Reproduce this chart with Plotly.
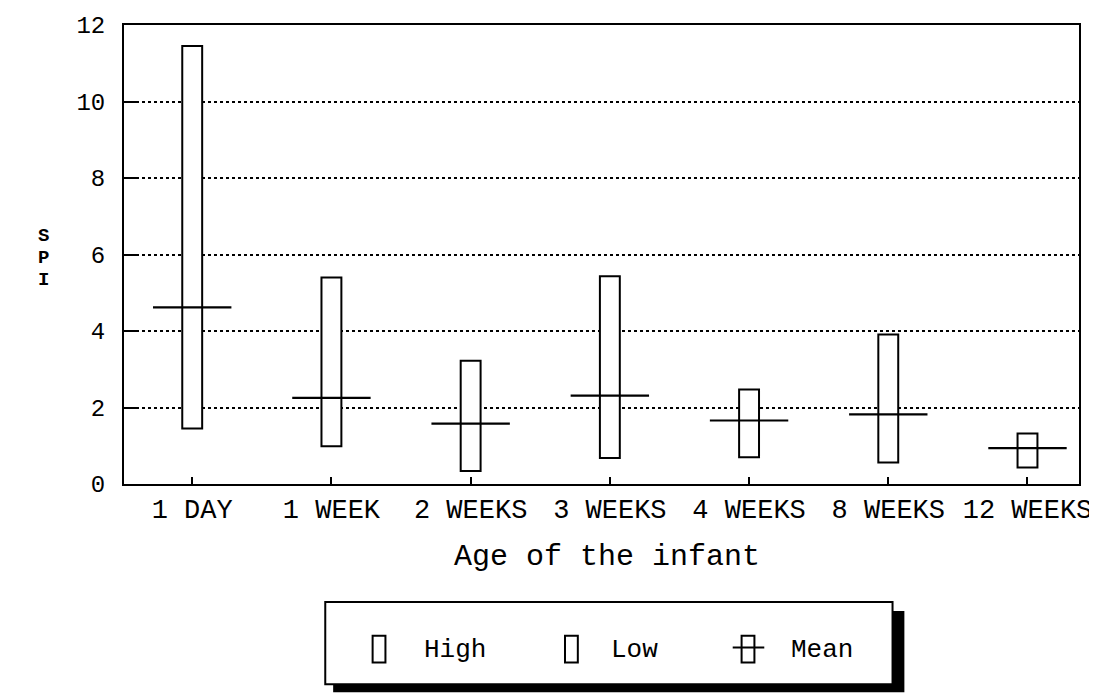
import plotly.graph_objects as go

# ---- data ----
categories = ["1 DAY", "1 WEEK", "2 WEEKS", "3 WEEKS", "4 WEEKS", "8 WEEKS", "12 WEEKS"]
high = [11.45, 5.40, 3.22, 5.43, 2.47, 3.91, 1.32]
low = [1.45, 0.99, 0.34, 0.68, 0.70, 0.56, 0.43]
mean = [4.62, 2.25, 1.58, 2.31, 1.66, 1.82, 0.94]
y_ticks = [0, 2, 4, 6, 8, 10, 12]

FONT = "Liberation Mono"
OFF = 8  # default page body margin
W, H = 1097 - OFF, 694 - OFF
L, R, T, B = 124 - OFF, 5, 21 - OFF, 210
PW, PH = W - L - R, H - T - B

def px(x):
    # page pixel -> paper coordinate
    return (x - OFF - L) / PW

def py(y):
    return (H - B - (y - OFF)) / PH

idx = list(range(len(categories)))

fig = go.Figure()
fig.add_trace(go.Bar(
    x=idx, y=[h - l for h, l in zip(high, low)], base=low,
    width=0.143, marker=dict(color="white", line=dict(color="black", width=2)),
    showlegend=False, hoverinfo="skip",
))
fig.add_trace(go.Scatter(
    x=idx, y=mean, mode="markers",
    marker=dict(symbol="line-ew", size=56, line=dict(color="black", width=2.2)),
    showlegend=False, hoverinfo="skip",
))

fig.update_layout(
    width=W, height=H,
    margin=dict(l=L, r=R, t=T, b=B, pad=0),
    paper_bgcolor="white", plot_bgcolor="white",
    font=dict(family=FONT, color="black"),
    xaxis=dict(
        range=[-0.49, 6.37], tickmode="array", tickvals=idx, ticktext=categories,
        ticks="inside", ticklen=7, tickwidth=1.5, tickcolor="black",
        showline=True, linecolor="black", linewidth=2, mirror=True,
        showgrid=False, zeroline=False,
        tickfont=dict(family=FONT, size=27, color="black"),
        ticklabelstandoff=0, ticklabeloverflow="allow",
    ),
    yaxis=dict(
        range=[0, 12], tickmode="array", tickvals=y_ticks,
        ticks="inside", ticklen=15, tickwidth=2, tickcolor="black",
        showline=True, linecolor="black", linewidth=2, mirror=True,
        showgrid=True, gridcolor="black", gridwidth=1.5, griddash="dot",
        zeroline=False,
        tickfont=dict(family=FONT, size=24, color="black"),
        ticklabelstandoff=12,
    ),
)

# x-axis title
fig.add_annotation(text="Age of the infant", xref="paper", yref="paper",
                   x=px(614), y=py(558), showarrow=False,
                   font=dict(family=FONT, size=30, color="black"),
                   xanchor="center", yanchor="middle")

# y-axis title (stacked letters)
for ch, yy in zip(["S", "P", "I"], [234, 256, 278]):
    fig.add_annotation(text=ch, xref="paper", yref="paper", x=px(42), y=py(yy),
                       showarrow=False,
                       font=dict(family=FONT, size=19, color="black", weight="bold"),
                       xanchor="center", yanchor="middle")

# legend box with shadow
shapes = []
shapes.append(dict(type="rect", xref="paper", yref="paper",
                   x0=px(336), x1=px(915), y0=py(694), y1=py(612),
                   fillcolor="black", line=dict(width=0), layer="above"))
shapes.append(dict(type="rect", xref="paper", yref="paper",
                   x0=px(328), x1=px(903), y0=py(686), y1=py(603),
                   fillcolor="white", line=dict(color="black", width=2), layer="above"))
# legend symbols
for x0 in [376, 571, 750]:
    shapes.append(dict(type="rect", xref="paper", yref="paper",
                       x0=px(x0), x1=px(x0 + 13), y0=py(664), y1=py(637),
                       fillcolor="white", line=dict(color="black", width=2), layer="above"))
shapes.append(dict(type="line", xref="paper", yref="paper",
                   x0=px(741), x1=px(773), y0=py(649), y1=py(649),
                   line=dict(color="black", width=2), layer="above"))
fig.update_layout(shapes=shapes)

for txt, x0 in [("High", 426), ("Low", 616), ("Mean", 798)]:
    fig.add_annotation(text=txt, xref="paper", yref="paper", x=px(x0), y=py(651),
                       showarrow=False, font=dict(family=FONT, size=26, color="black"),
                       xanchor="left", yanchor="middle")

fig.write_html("out.html")
